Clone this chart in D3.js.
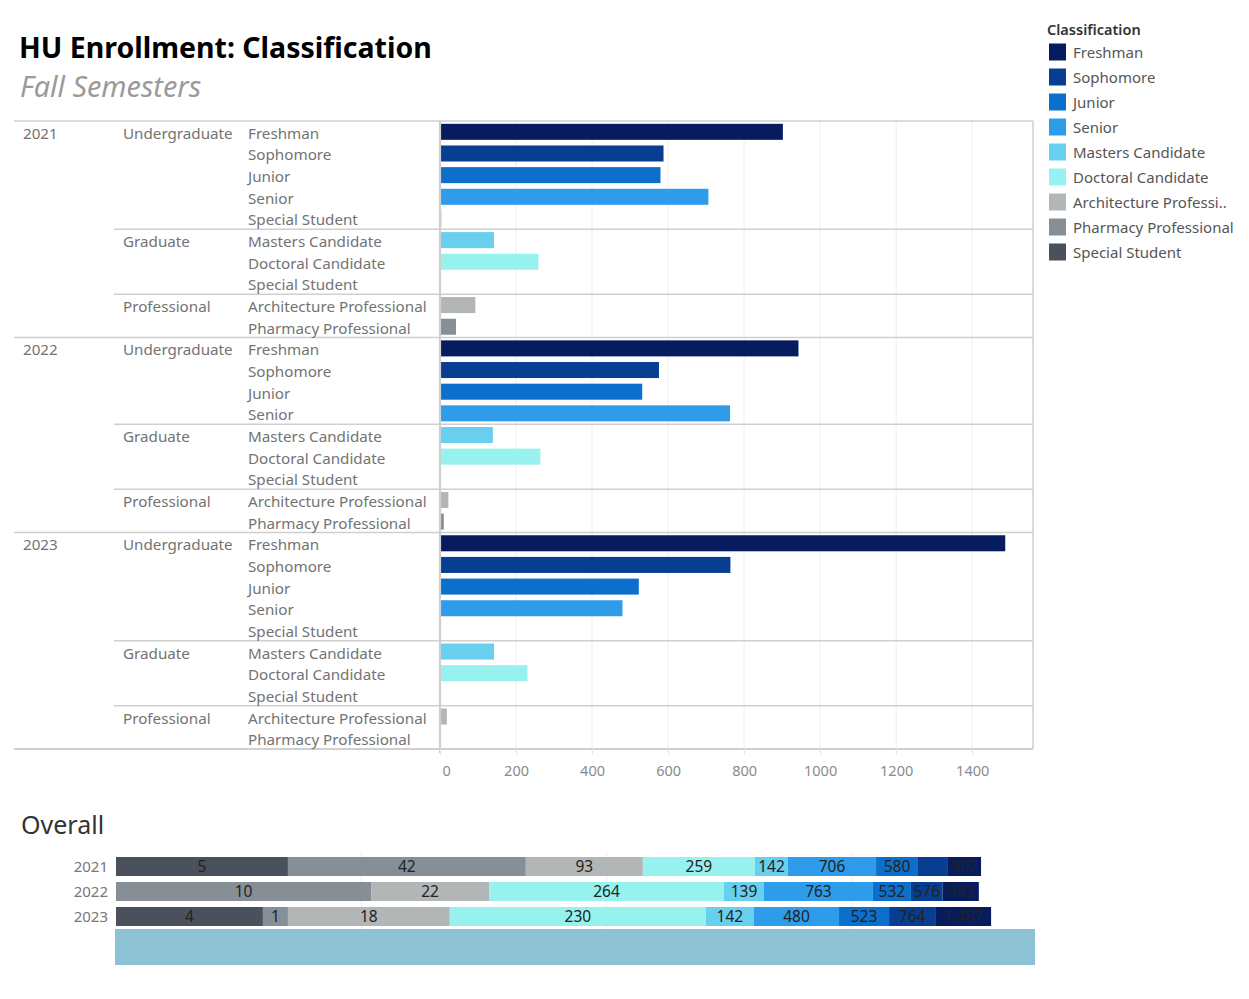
<!DOCTYPE html>
<html>
<head>
<meta charset="utf-8">
<script src="https://cdn.jsdelivr.net/npm/d3@7"></script>
<style>
  body { margin: 0; background: #fff; font-family: "Noto Sans", sans-serif; }
</style>
</head>
<body>
<div id="chart"></div>
<script>
// chart data
var years = ["2021", "2022", "2023"];
var levels = ["Undergraduate", "Graduate", "Professional"];
var undergradClasses = ["Freshman", "Sophomore", "Junior", "Senior", "Special Student"];
var graduateClasses = ["Masters Candidate", "Doctoral Candidate", "Special Student"];
var professionalClasses = ["Architecture Professional", "Pharmacy Professional"];

// values in row order: undergrad (5), graduate (3), professional (2); null = row not present
var enroll2021 = [902, 588, 580, 706, 3, 142, 259, 2, 93, 42];
var enroll2022 = [943, 576, 532, 763, null, 139, 264, 0, 22, 10];
var enroll2023 = [1487, 764, 523, 480, 2, 142, 230, 2, 18, 1];

// legend classes and colours
var classes = ["Freshman", "Sophomore", "Junior", "Senior", "Masters Candidate",
    "Doctoral Candidate", "Architecture Professional", "Pharmacy Professional", "Special Student"];
var classColors = ["#061c5e", "#073e91", "#0c6fcc", "#2e9ceb", "#68cfee",
    "#97f1ef", "#b3b6b7", "#868e96", "#4a505c"];

// overall stacked bar: order of segments and their share (axis units, 100 per gridline)
var overallOrder = ["Special Student", "Pharmacy Professional", "Architecture Professional",
    "Doctoral Candidate", "Masters Candidate", "Senior", "Junior", "Sophomore", "Freshman"];
var overallShare2021 = [70.1, 97.0, 47.7, 45.7, 13.5, 35.9, 17.1, 12.2, 13.5];
var overallShare2022 = [0, 104.0, 48.1, 95.8, 16.3, 44.4, 15.5, 12.9, 14.8];
var overallShare2023 = [59.9, 10.2, 66.0, 104.4, 19.6, 34.7, 20.4, 18.8, 22.8];

var xTicks = [0, 200, 400, 600, 800, 1000, 1200, 1400];

// svg setup
var svgWidth = 1249;
var svgHeight = 999;
var svg = d3.select("#chart").append("svg")
    .attr("width", svgWidth)
    .attr("height", svgHeight);

var color = d3.scaleOrdinal().domain(classes).range(classColors);
var labelColor = "#737373";
var lineColor = "#cfcfcf";

// build rows for the table
var yearValues = [enroll2021, enroll2022, enroll2023];
var levelClasses = [undergradClasses, graduateClasses, professionalClasses];
var rows = [];
years.forEach(function(yr, yi) {
    var k = 0;
    levels.forEach(function(lv, li) {
        levelClasses[li].forEach(function(cl) {
            var v = yearValues[yi][k];
            k++;
            if (v === null) return;
            rows.push({year: yr, level: lv, cls: cl, value: v, id: yr + "|" + lv + "|" + cl});
        });
    });
});
rows.forEach(function(r, i) {
    var prev = rows[i - 1];
    r.firstYear = !prev || prev.year !== r.year;
    r.firstLevel = !prev || prev.level !== r.level || r.firstYear;
});

// title
svg.append("text")
    .attr("x", 19).attr("y", 58)
    .attr("font-size", "28.5px").attr("font-weight", "bold")
    .attr("fill", "#000")
    .text("HU Enrollment: Classification");
svg.append("text")
    .attr("x", 20).attr("y", 97)
    .attr("font-size", "28.8px").attr("font-style", "italic")
    .attr("fill", "#9a9a9a")
    .text("Fall Semesters");

// scales for the main chart
var paneLeft = 440, paneRight = 1033, paneTop = 121, paneBottom = 749;
var x = d3.scaleLinear().domain([0, 1560]).range([paneLeft, paneRight]);
var y = d3.scaleBand().domain(rows.map(d => d.id)).range([paneTop, paneBottom])
    .paddingInner(0.26).paddingOuter(0.13);
var step = y.step();
var rowTop = d => y(d.id) - y.paddingOuter() * step;

// gridlines
svg.append("g").selectAll("line")
    .data(xTicks.slice(1))
    .enter().append("line")
    .attr("x1", d => x(d)).attr("x2", d => x(d))
    .attr("y1", paneTop).attr("y2", paneBottom)
    .attr("stroke", "#eeeeee");

// bars
svg.append("g").selectAll("rect")
    .data(rows)
    .enter().append("rect")
    .attr("x", x(0))
    .attr("y", d => y(d.id))
    .attr("width", d => x(d.value) - x(0))
    .attr("height", y.bandwidth())
    .attr("fill", d => color(d.cls));

// separators
var seps = svg.append("g");
rows.filter(d => d.firstLevel).forEach(function(d) {
    seps.append("line")
        .attr("x1", d.firstYear ? 14 : 114).attr("x2", paneRight)
        .attr("y1", rowTop(d)).attr("y2", rowTop(d))
        .attr("stroke", lineColor).attr("stroke-width", 1.5);
});
seps.append("line").attr("x1", 14).attr("x2", paneRight)
    .attr("y1", paneBottom).attr("y2", paneBottom)
    .attr("stroke", lineColor).attr("stroke-width", 2);
seps.append("line").attr("x1", paneLeft).attr("x2", paneLeft)
    .attr("y1", paneTop).attr("y2", paneBottom + 4)
    .attr("stroke", lineColor).attr("stroke-width", 2.2);
seps.append("line").attr("x1", paneRight).attr("x2", paneRight)
    .attr("y1", paneTop).attr("y2", paneBottom)
    .attr("stroke", lineColor).attr("stroke-width", 1.5);

// row headers
var headers = svg.append("g").attr("font-size", "15.2px").attr("fill", labelColor);
headers.selectAll(".yearText")
    .data(rows.filter(d => d.firstYear))
    .enter().append("text")
    .attr("x", 23).attr("y", d => y(d.id) + y.bandwidth() / 2 + 7)
    .text(d => d.year);
headers.selectAll(".levelText")
    .data(rows.filter(d => d.firstLevel))
    .enter().append("text")
    .attr("x", 123).attr("y", d => y(d.id) + y.bandwidth() / 2 + 7)
    .text(d => d.level);
headers.selectAll(".classText")
    .data(rows)
    .enter().append("text")
    .attr("x", 248).attr("y", d => y(d.id) + y.bandwidth() / 2 + 7)
    .text(d => d.cls);

// x axis
var xAxis = svg.append("g")
    .attr("transform", `translate(0, ${paneBottom})`)
    .call(d3.axisBottom(x).tickValues(xTicks).tickFormat(d3.format("d")).tickSize(6).tickPadding(11));
xAxis.select(".domain").remove();
xAxis.selectAll(".tick line").attr("stroke", "#e4e4e4");
xAxis.selectAll(".tick text")
    .attr("fill", "#8a8a8a")
    .attr("font-size", "14.5px")
    .attr("font-family", "Noto Sans, sans-serif")
    .attr("text-anchor", (d, i) => i === 0 ? "start" : "middle")
    .attr("dx", (d, i) => i === 0 ? 2 : 0);

// legend
var legend = svg.append("g").attr("transform", "translate(1047, 0)");
legend.append("text")
    .attr("x", 0).attr("y", 35)
    .attr("font-size", "14.5px").attr("font-weight", 600).attr("fill", "#333")
    .text("Classification");
var items = legend.selectAll(".item")
    .data(classes)
    .enter().append("g")
    .attr("transform", (d, i) => `translate(0, ${52 + i * 25})`);
items.append("rect")
    .attr("x", 2).attr("y", -8.5)
    .attr("width", 17).attr("height", 17)
    .attr("fill", d => color(d));
items.append("text")
    .attr("x", 26).attr("y", 5.5)
    .attr("font-size", "15px").attr("fill", "#555")
    .text(d => d === "Architecture Professional" ? "Architecture Professi.." : d);

// overall section
svg.append("text")
    .attr("x", 21).attr("y", 834)
    .attr("font-size", "25px").attr("fill", "#333")
    .text("Overall");

var overallShares = [overallShare2021, overallShare2022, overallShare2023];
var x2 = d3.scaleLinear().domain([0, 374.7]).range([116, 1035]);
var y2 = d3.scaleBand().domain(years).range([854, 929]).paddingInner(0.24).paddingOuter(0.12);

// overall segments with totals per class
var segs = [];
years.forEach(function(yr, yi) {
    var acc = 0;
    overallOrder.forEach(function(cl, ci) {
        var total = d3.sum(rows.filter(r => r.year === yr && r.cls === cl), r => r.value);
        var share = overallShares[yi][ci];
        if (share > 0) segs.push({year: yr, cls: cl, value: total, x0: acc, x1: acc + share});
        acc += share;
    });
});

svg.append("g").selectAll("line")
    .data([100, 200, 300])
    .enter().append("line")
    .attr("x1", d => x2(d)).attr("x2", d => x2(d))
    .attr("y1", 852).attr("y2", 929)
    .attr("stroke", "#eeeeee");

svg.append("g").selectAll("rect")
    .data(segs)
    .enter().append("rect")
    .attr("x", d => x2(d.x0))
    .attr("y", d => y2(d.year))
    .attr("width", d => x2(d.x1) - x2(d.x0))
    .attr("height", y2.bandwidth())
    .attr("fill", d => color(d.cls));

// segment labels, dropped when they don't fit
svg.append("g").selectAll("text")
    .data(segs)
    .enter().append("text")
    .attr("x", d => (x2(d.x0) + x2(d.x1)) / 2)
    .attr("y", d => y2(d.year) + y2.bandwidth() / 2 + 5.5)
    .attr("text-anchor", "middle")
    .attr("font-size", "15.5px").attr("fill", "#222")
    .text(d => d3.format(",")(d.value))
    .each(function(d) {
        if (this.getComputedTextLength() + 3.5 > x2(d.x1) - x2(d.x0)) d3.select(this).remove();
    });

svg.append("g").selectAll("text")
    .data(years)
    .enter().append("text")
    .attr("x", 108)
    .attr("y", d => y2(d) + y2.bandwidth() / 2 + 5)
    .attr("text-anchor", "end")
    .attr("font-size", "15px").attr("fill", "#777")
    .text(d => d);

// band below the overall bars
svg.append("rect")
    .attr("x", 115).attr("y", 929)
    .attr("width", 920).attr("height", 36)
    .attr("fill", "#8cc2d3");
</script>
</body>
</html>
